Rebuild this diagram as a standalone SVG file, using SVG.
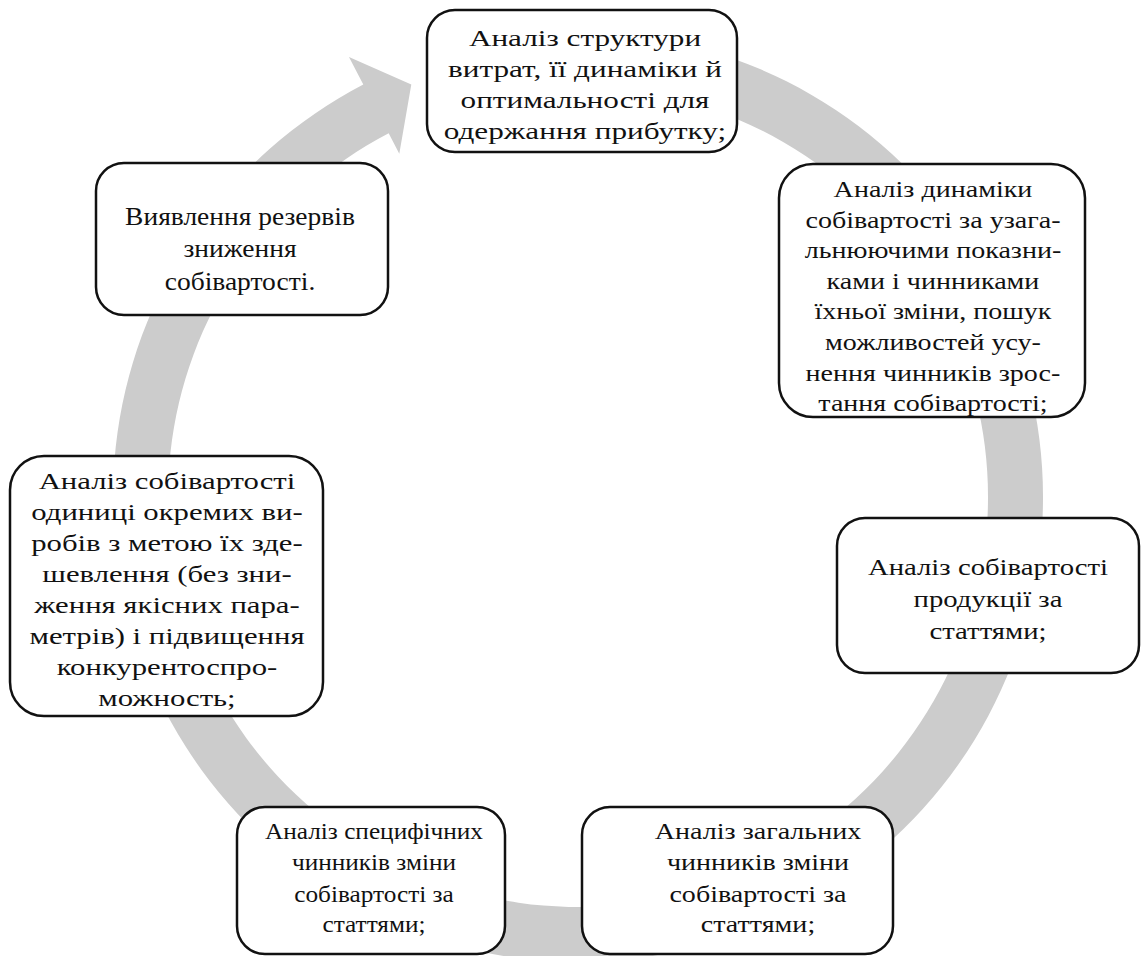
<svg xmlns="http://www.w3.org/2000/svg" width="1142" height="956" viewBox="0 0 1142 956">
  <style>
    .box { fill: #ffffff; stroke: #111111; stroke-width: 2.5; }
    .lbl { font-family: "Liberation Serif", "Times New Roman", serif; fill: #111111; text-anchor: middle; }
    .f23 { font-size: 23px; }
    .f24 { font-size: 24px; }
    .f25 { font-size: 25px; }
    .ring { fill: #cccccc; stroke: none; }
  </style>

  <!-- circular arrow running clockwise behind the boxes -->
  <g id="connectors">
    <path class="ring" d="M 537.47 33.77 A 465 465 0 1 1 363.29 84.54 L 348.97 57.04 L 411.30 84.40 L 399.30 153.73 L 388.68 133.33 A 410 410 0 1 0 542.26 88.56 Z"/>
  </g>

  <g id="node-structure">
    <rect class="box" x="427" y="10" width="310" height="142" rx="28"/>
    <!-- wide set text: scale 1.3 about x=585 -->
    <g class="lbl f24" transform="matrix(1.3 0 0 1 -175.5 0)">
      <text x="585" y="46">Аналіз структури</text>
      <text x="585" y="77">витрат, її динаміки й</text>
      <text x="585" y="108">оптимальності для</text>
      <text x="585" y="139">одержання прибутку;</text>
    </g>
  </g>

  <g id="node-dynamics">
    <rect class="box" x="779" y="164" width="306" height="253" rx="34"/>
    <!-- scale 1.22 about x=933 -->
    <g class="lbl f23" transform="matrix(1.22 0 0 1 -205.26 0)">
      <text x="933" y="197">Аналіз динаміки</text>
      <text x="933" y="228">собівартості за узага-</text>
      <text x="933" y="258">льнюючими показни-</text>
      <text x="933" y="289">ками і чинниками</text>
      <text x="933" y="319">їхньої зміни, пошук</text>
      <text x="933" y="350">можливостей усу-</text>
      <text x="933" y="381">нення чинників зрос-</text>
      <text x="933" y="411">тання собівартості;</text>
    </g>
  </g>

  <g id="node-items">
    <rect class="box" x="837" y="518" width="302" height="155" rx="28"/>
    <!-- scale 1.25 about x=988 -->
    <g class="lbl f23" transform="matrix(1.25 0 0 1 -247 0)">
      <text x="988" y="575">Аналіз собівартості</text>
      <text x="988" y="607">продукції за</text>
      <text x="988" y="639">статтями;</text>
    </g>
  </g>

  <g id="node-general">
    <rect class="box" x="582" y="807" width="311" height="147" rx="28"/>
    <!-- scale 1.22 about x=758 -->
    <g class="lbl f23" transform="matrix(1.22 0 0 1 -166.76 0)">
      <text x="758" y="839">Аналіз загальних</text>
      <text x="758" y="870">чинників зміни</text>
      <text x="758" y="902">собівартості за</text>
      <text x="758" y="932">статтями;</text>
    </g>
  </g>

  <g id="node-specific">
    <rect class="box" x="237" y="807" width="268" height="147" rx="28"/>
    <!-- scale 1.1 about x=374 -->
    <g class="lbl f23" transform="matrix(1.1 0 0 1 -37.4 0)">
      <text x="374" y="839">Аналіз специфічних</text>
      <text x="374" y="870">чинників зміни</text>
      <text x="374" y="902">собівартості за</text>
      <text x="374" y="932">статтями;</text>
    </g>
  </g>

  <g id="node-unit">
    <rect class="box" x="10" y="456" width="313" height="260" rx="34"/>
    <!-- scale 1.28 about x=167 -->
    <g class="lbl f24" transform="matrix(1.28 0 0 1 -46.76 0)">
      <text x="167" y="489">Аналіз собівартості</text>
      <text x="167" y="520">одиниці окремих ви-</text>
      <text x="167" y="551">робів з метою їх зде-</text>
      <text x="167" y="582">шевлення (без зни-</text>
      <text x="167" y="613">ження якісних пара-</text>
      <text x="167" y="644">метрів) і підвищення</text>
      <text x="167" y="675">конкурентоспро-</text>
      <text x="167" y="706">можность;</text>
    </g>
  </g>

  <g id="node-reserves">
    <rect class="box" x="96" y="163" width="292" height="152" rx="28"/>
    <!-- scale 1.1 about x=240 -->
    <g class="lbl f25" transform="matrix(1.1 0 0 1 -24 0)">
      <text x="240" y="225">Виявлення резервів</text>
      <text x="240" y="257">зниження</text>
      <text x="240" y="290">собівартості.</text>
    </g>
  </g>
</svg>
